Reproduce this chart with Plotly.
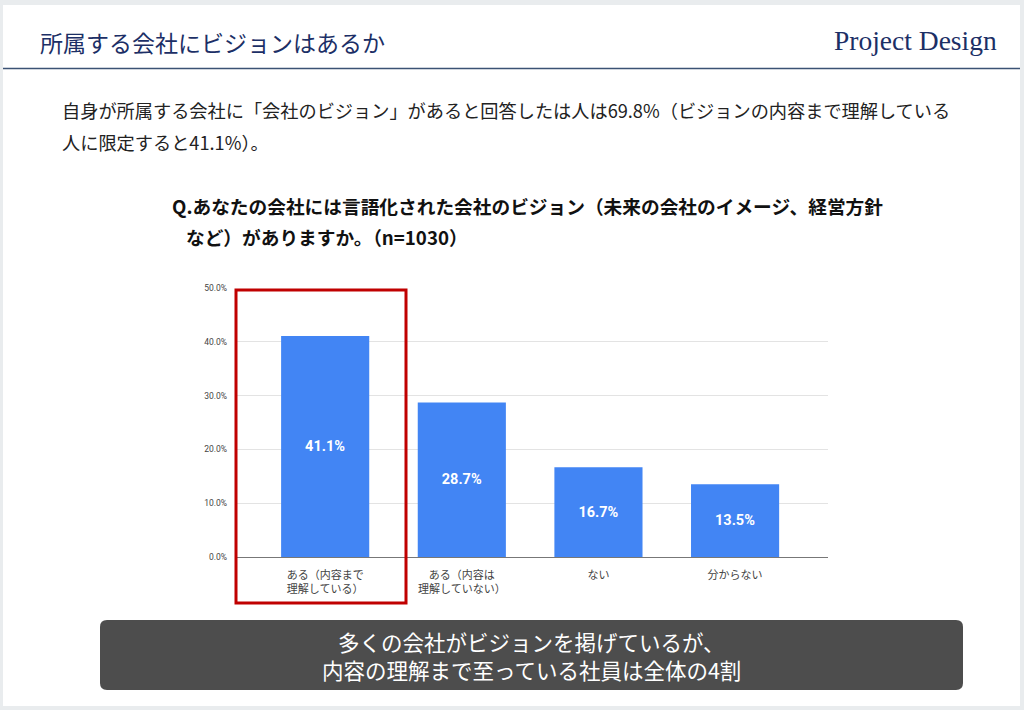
import plotly.graph_objects as go

W, H = 1024, 710

categories = ["ある（内容まで<br>理解している）", "ある（内容は<br>理解していない）", "ない", "分からない"]
values = [41.1, 28.7, 16.7, 13.5]
y_ticks = [0, 10, 20, 30, 40, 50]
y_tick_labels = ["0.0%", "10.0%", "20.0%", "30.0%", "40.0%", "50.0%"]

page_title = "所属する会社にビジョンはあるか"
logo_text = "Project Design"
lead_lines = ["自身が所属する会社に「会社のビジョン」があると回答したは人は69.8%（ビジョンの内容まで理解している",
              "人に限定すると41.1%）。"]
question_lines = ["Q.あなたの会社には言語化された会社のビジョン（未来の会社のイメージ、経営方針",
                  "など）がありますか。（n=1030）"]
summary_lines = ["多くの会社がビジョンを掲げているが、", "内容の理解まで至っている社員は全体の4割"]

JP = "Noto Sans CJK JP"


def px(x):
    return x / W


def py(y):
    return 1 - y / H


fig = go.Figure()
fig.add_trace(go.Bar(
    x=list(range(len(categories))),
    y=values,
    marker=dict(color="#4285f4", line=dict(width=0)),
    width=0.645,
    text=[f"<b>{v:.1f}%</b>" for v in values],
    textposition="inside",
    insidetextanchor="middle",
    textfont=dict(color="white", size=14.5, family="Roboto"),
    hoverinfo="skip",
))

fig.update_layout(
    width=W, height=H,
    margin=dict(l=0, r=0, t=0, b=0, pad=0, autoexpand=False),
    paper_bgcolor="#e9ecee",
    plot_bgcolor="white",
    showlegend=False,
    xaxis=dict(
        domain=[px(235), px(828)],
        range=[-0.66, 3.68],
        tickmode="array",
        tickvals=list(range(len(categories))),
        ticktext=categories,
        tickfont=dict(family=JP, size=11, color="#444"),
        ticklabelstandoff=10,
        showgrid=False, zeroline=False, showline=False, ticks="",
        automargin=False,
    ),
    yaxis=dict(
        domain=[py(557), py(288)],
        range=[0, 50],
        tickmode="array",
        tickvals=y_ticks,
        ticktext=y_tick_labels,
        tickfont=dict(family="Roboto", size=8.5, color="#444"),
        ticklabelstandoff=7,
        showgrid=True, gridcolor="#e3e3e3", gridwidth=1,
        zeroline=True, zerolinecolor="#777", zerolinewidth=1,
        showline=False, ticks="",
        automargin=False,
    ),
)

shapes = []
# white slide
shapes.append(dict(type="rect", xref="paper", yref="paper", layer="below",
                   x0=px(3), x1=px(1020), y0=py(706), y1=py(5),
                   fillcolor="white", line=dict(width=0)))
# header line
shapes.append(dict(type="line", xref="paper", yref="paper",
                   x0=px(3), x1=px(1020), y0=py(68.5), y1=py(68.5),
                   line=dict(color="#3b5274", width=1.5)))
# red highlight box
shapes.append(dict(type="rect", xref="paper", yref="paper",
                   x0=px(236), x1=px(406), y0=py(603), y1=py(290),
                   line=dict(color="#c00000", width=3)))
# rounded dark summary box
x0, x1, y0, y1, r = 100, 963, 620, 690, 7
path = (f"M {px(x0+r)},{py(y0)} L {px(x1-r)},{py(y0)} Q {px(x1)},{py(y0)} {px(x1)},{py(y0+r)} "
        f"L {px(x1)},{py(y1-r)} Q {px(x1)},{py(y1)} {px(x1-r)},{py(y1)} "
        f"L {px(x0+r)},{py(y1)} Q {px(x0)},{py(y1)} {px(x0)},{py(y1-r)} "
        f"L {px(x0)},{py(y0+r)} Q {px(x0)},{py(y0)} {px(x0+r)},{py(y0)} Z")
shapes.append(dict(type="path", xref="paper", yref="paper", path=path,
                   fillcolor="#4d4d4d", line=dict(width=0)))
fig.update_layout(shapes=shapes)

ann = []
ann.append(dict(text=page_title, x=px(38), y=py(42), xanchor="left", yanchor="middle",
                font=dict(family=JP, size=23, color="#1c2f66")))
ann.append(dict(text=logo_text, x=px(999), y=py(40), xanchor="right", yanchor="middle",
                font=dict(family="Liberation Serif", size=27.5, color="#1c2f66")))
ann.append(dict(text=lead_lines[0], x=px(60), y=py(110), xanchor="left", yanchor="middle",
                font=dict(family=JP, size=18.2, color="#222")))
ann.append(dict(text=lead_lines[1], x=px(60), y=py(142), xanchor="left", yanchor="middle",
                font=dict(family=JP, size=18.2, color="#222")))
ann.append(dict(text="<b>" + question_lines[0] + "</b>", x=px(170), y=py(205), xanchor="left", yanchor="middle",
                font=dict(family=JP, size=18.7, color="#111")))
ann.append(dict(text="<b>" + question_lines[1] + "</b>", x=px(184), y=py(236), xanchor="left", yanchor="middle",
                font=dict(family=JP, size=18.7, color="#111")))
ann.append(dict(text=summary_lines[0], x=px(531), y=py(641), xanchor="center", yanchor="middle",
                font=dict(family=JP, size=21.5, color="white")))
ann.append(dict(text=summary_lines[1], x=px(531), y=py(669), xanchor="center", yanchor="middle",
                font=dict(family=JP, size=21.5, color="white")))
for a in ann:
    a.update(xref="paper", yref="paper", showarrow=False)
fig.update_layout(annotations=ann)

post = ("var gd=document.getElementById('{plot_id}');"
        "gd.style.display='block';"
        "var p=gd.parentElement; p.style.height='710px'; p.style.overflow='hidden'; p.style.fontSize='0';"
        "document.documentElement.style.overflow='hidden';"
        "document.body.style.margin='0';document.body.style.padding='0';"
        "document.body.style.height='710px';document.body.style.overflow='hidden';")

fig.write_html("out.html", config={"displayModeBar": False}, post_script=post)
